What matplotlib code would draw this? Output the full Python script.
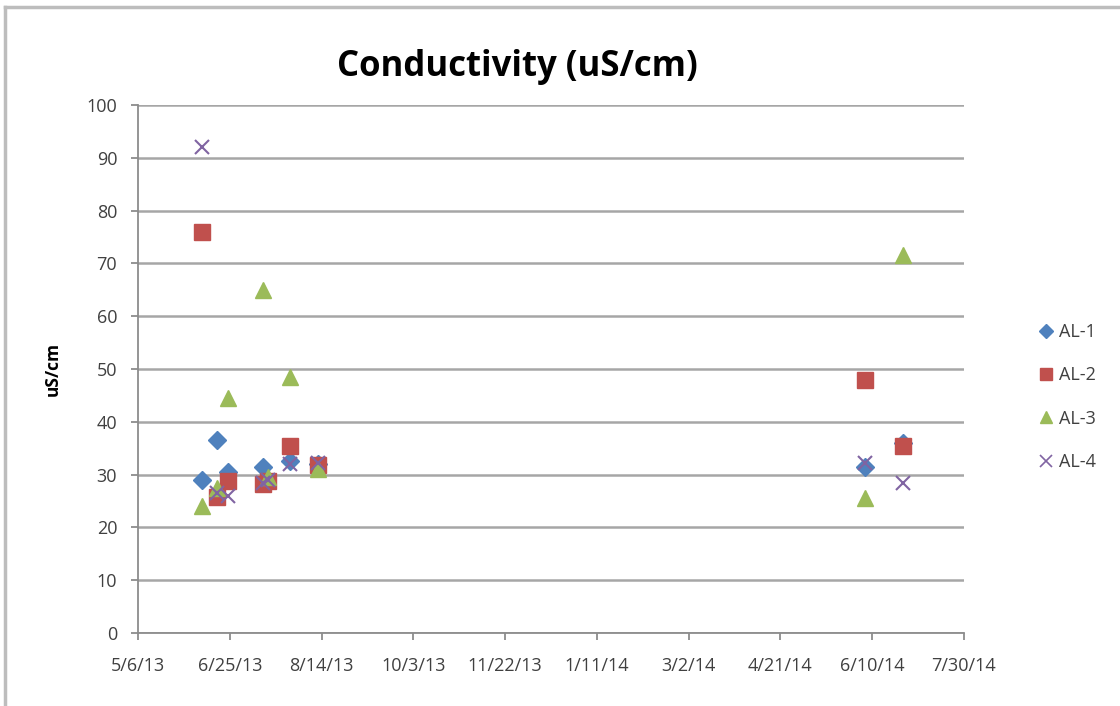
import matplotlib
matplotlib.use("Agg")
import matplotlib.pyplot as plt
import matplotlib.dates as mdates
from matplotlib.lines import Line2D
import numpy as np
import pandas as pd

plt.rcParams['font.family'] = ['Open Sans', 'DejaVu Sans']

title = "Conductivity (uS/cm)"
ylabel = "uS/cm"
series_names = ["AL-1", "AL-2", "AL-3", "AL-4"]
dates = pd.to_datetime(["2013-06-10", "2013-06-18", "2013-06-24", "2013-07-13",
                        "2013-07-16", "2013-07-28", "2013-08-12", "2014-06-06",
                        "2014-06-27"])
al1 = [29.0, 36.5, 30.5, 31.5, np.nan, 32.5, 32.0, 31.4, 36.0]
al2 = [76.0, 25.8, 28.8, 28.2, 28.8, 35.5, 31.8, 47.9, 35.4]
al3 = [24.0, 27.5, 44.5, 65.0, 29.5, 48.5, 31.0, 25.6, 71.6]
al4 = [92.0, 26.5, 26.0, 28.5, 29.0, 32.0, 32.2, 32.2, 28.4]
x_ticks = pd.date_range("2013-05-06", "2014-07-30", freq="50D")
y_ticks = list(range(0, 101, 10))

colors = ["#4F81BD", "#C0504D", "#9BBB59", "#8064A2"]
markers = ["D", "s", "^", "x"]
msizes = [9, 11, 11, 10]

fig = plt.figure(figsize=(11.2, 7.06), dpi=100)
ax = fig.add_axes([138/1120, 1-633/706, (964-138)/1120, (633-105)/706])

for vals, name, c, m, ms in zip([al1, al2, al3, al4], series_names, colors, markers, msizes):
    if m == "x":
        ax.plot(dates, vals, linestyle="none", marker=m, markersize=ms, color=c,
                markeredgewidth=1.5, label=name, zorder=3)
    else:
        ax.plot(dates, vals, linestyle="none", marker=m, markersize=ms, color=c,
                markeredgecolor=c, label=name, zorder=3)

ax.set_xlim(x_ticks[0], x_ticks[-1])
ax.set_ylim(0, 100)
ax.set_xticks(x_ticks)
ax.set_xticklabels([f"{d.month}/{d.day}/{d.strftime('%y')}" for d in x_ticks])
ax.set_yticks(y_ticks)
ax.grid(axis="y", color="#a6a6a6", linewidth=1.8)
ax.set_axisbelow(True)
for s in ["top", "right"]:
    ax.spines[s].set_visible(False)
for s in ["left", "bottom"]:
    ax.spines[s].set_color("#8c8c8c")
    ax.spines[s].set_linewidth(1.3)
ax.tick_params(axis="both", colors="#8c8c8c", labelcolor="#404040", labelsize=13,
               length=5, width=1.3)
ax.tick_params(axis="x", pad=12)
ax.tick_params(axis="y", pad=10)

ax.set_ylabel(ylabel, fontsize=12.5, fontweight="bold", color="#000000", labelpad=18)
fig.text(517/1120, 1-67/706, title, ha="center", va="center", fontsize=25,
         fontweight="bold", color="#000000")

handles = [Line2D([], [], linestyle="none", marker=m, color=c, markersize=ms*0.8,
                  markeredgewidth=1.2 if m == "x" else 1.0)
           for c, m, ms in zip(colors, markers, msizes)]
leg = fig.legend(handles, series_names, loc="center left",
                 bbox_to_anchor=(1032/1120, 1-397/706), frameon=False,
                 fontsize=13, labelspacing=1.4, handlelength=0.8,
                 handletextpad=0.3, borderaxespad=0)
for t in leg.get_texts():
    t.set_color("#404040")

# outer chart border
fig.add_artist(Line2D([5/1120, 5/1120], [0, 1-7/706], transform=fig.transFigure,
                      color="#bdbdbd", linewidth=2.5))
fig.add_artist(Line2D([5/1120, 1], [1-7/706, 1-7/706], transform=fig.transFigure,
                      color="#bdbdbd", linewidth=2.5))

fig.savefig("out.png", dpi=100)
